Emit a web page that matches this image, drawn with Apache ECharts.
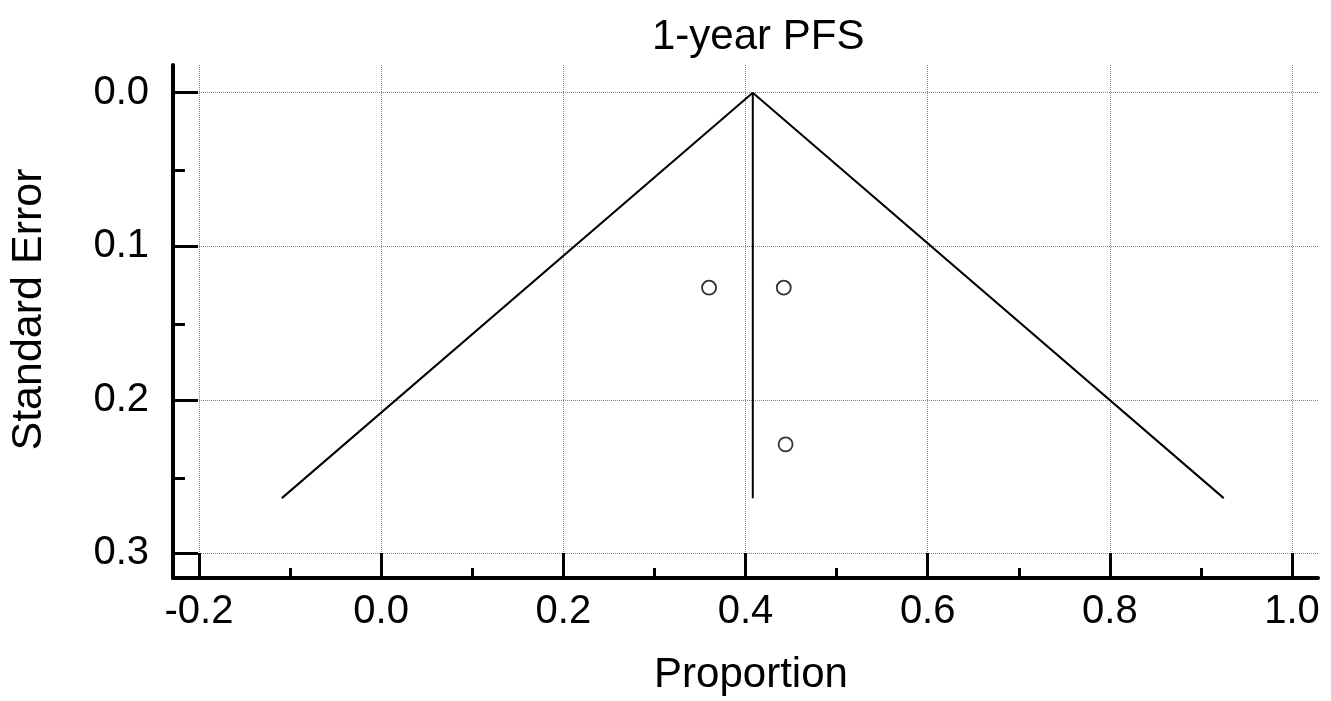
<!DOCTYPE html>
<html>
<head>
<meta charset="utf-8">
<script src="https://cdn.jsdelivr.net/npm/echarts@6/dist/echarts.min.js"></script>
<style>html,body{margin:0;padding:0;background:#fff;}#c{width:1331px;height:701px;}</style>
</head>
<body>
<div id="c"></div>
<script>
// ---- data ----
var titleText = '1-year PFS';
var xName = 'Proportion';
var yName = 'Standard Error';
var xMajorTicks = [-0.2, 0.0, 0.2, 0.4, 0.6, 0.8, 1.0];
var xMinorTicks = [-0.1, 0.1, 0.3, 0.5, 0.7, 0.9];
var yMajorTicks = [0.0, 0.1, 0.2, 0.3];
var yMinorTicks = [0.05, 0.15, 0.25];
// studies: [proportion, standard error]
var studies = [[0.360, 0.127], [0.442, 0.127], [0.444, 0.229]];
// funnel outline endpoints: [proportion, standard error]
var funnelLeft = [[0.408, 0.0], [-0.109, 0.264]];
var funnelRight = [[0.408, 0.0], [0.925, 0.264]];
var pooledLine = [[0.408, 0.0], [0.408, 0.264]];

var xMin = -0.2285, xMax = 1.0285;
var yMin = -0.018, yMax = 0.316;
var FONT = 'Liberation Sans, Arial, sans-serif';

var gridGeom = {left: 173, right: 13, top: 65, bottom: 121};
var chart = echarts.init(document.getElementById('c'));
chart.setOption({
  animation: false,
  backgroundColor: '#fff',
  title: {
    text: titleText, left: 647, top: 11,
    textStyle: {fontFamily: FONT, fontSize: 42, fontWeight: 'normal', color: '#000'}
  },
  grid: [
    Object.assign({containLabel: false}, gridGeom),
    Object.assign({containLabel: false}, gridGeom)
  ],
  xAxis: [{
    type: 'value', gridIndex: 0, min: xMin, max: xMax,
    name: xName, nameLocation: 'middle', nameGap: 76,
    nameTextStyle: {fontFamily: FONT, fontSize: 42, color: '#000', padding: [0, 0, 0, 11]},
    axisLine: {show: true, onZero: false, lineStyle: {color: '#000', width: 4}},
    axisTick: {show: true, inside: true, length: 25, customValues: xMajorTicks, lineStyle: {color: '#000', width: 3}},
    axisLabel: {show: true, customValues: xMajorTicks, margin: 14, fontFamily: FONT, fontSize: 40, color: '#000',
      formatter: function (v) { return v.toFixed(1); }},
    splitLine: {show: true, lineStyle: {color: '#888', width: 1, type: 'dotted'}},
    minorTick: {show: false}
  }, {
    type: 'value', gridIndex: 1, min: xMin, max: xMax,
    axisLine: {show: false, onZero: false},
    axisTick: {show: true, inside: true, length: 12, customValues: xMinorTicks, lineStyle: {color: '#000', width: 3}},
    axisLabel: {show: false},
    splitLine: {show: false}
  }],
  yAxis: [{
    type: 'value', gridIndex: 0, min: yMin, max: yMax, inverse: true,
    name: yName, nameLocation: 'middle', nameGap: 122, nameRotate: 90,
    nameTextStyle: {fontFamily: FONT, fontSize: 43, color: '#000', padding: [0, 0, 0, 24]},
    axisLine: {show: true, onZero: false, lineStyle: {color: '#000', width: 4}},
    axisTick: {show: true, inside: true, length: 25, customValues: yMajorTicks, lineStyle: {color: '#000', width: 3}},
    axisLabel: {show: true, customValues: yMajorTicks, margin: 24, fontFamily: FONT, fontSize: 40, color: '#000',
      formatter: function (v) { return v.toFixed(1); }},
    splitLine: {show: true, lineStyle: {color: '#888', width: 1, type: 'dotted'}}
  }, {
    type: 'value', gridIndex: 1, min: yMin, max: yMax, inverse: true,
    axisLine: {show: false, onZero: false},
    axisTick: {show: true, inside: true, length: 12, customValues: yMinorTicks, lineStyle: {color: '#000', width: 3}},
    axisLabel: {show: false},
    splitLine: {show: false}
  }],
  series: [{
    type: 'line', data: funnelLeft, xAxisIndex: 0, yAxisIndex: 0,
    showSymbol: false, symbol: 'none', lineStyle: {color: '#000', width: 2}, silent: true
  }, {
    type: 'line', data: funnelRight, xAxisIndex: 0, yAxisIndex: 0,
    showSymbol: false, symbol: 'none', lineStyle: {color: '#000', width: 2}, silent: true
  }, {
    type: 'line', data: pooledLine, xAxisIndex: 0, yAxisIndex: 0,
    showSymbol: false, symbol: 'none', lineStyle: {color: '#000', width: 2}, silent: true
  }, {
    type: 'scatter', data: studies, xAxisIndex: 0, yAxisIndex: 0,
    symbol: 'circle', symbolSize: 14,
    itemStyle: {color: '#fff', borderColor: '#000', borderWidth: 1.8}
  }]
});
</script>
</body>
</html>
